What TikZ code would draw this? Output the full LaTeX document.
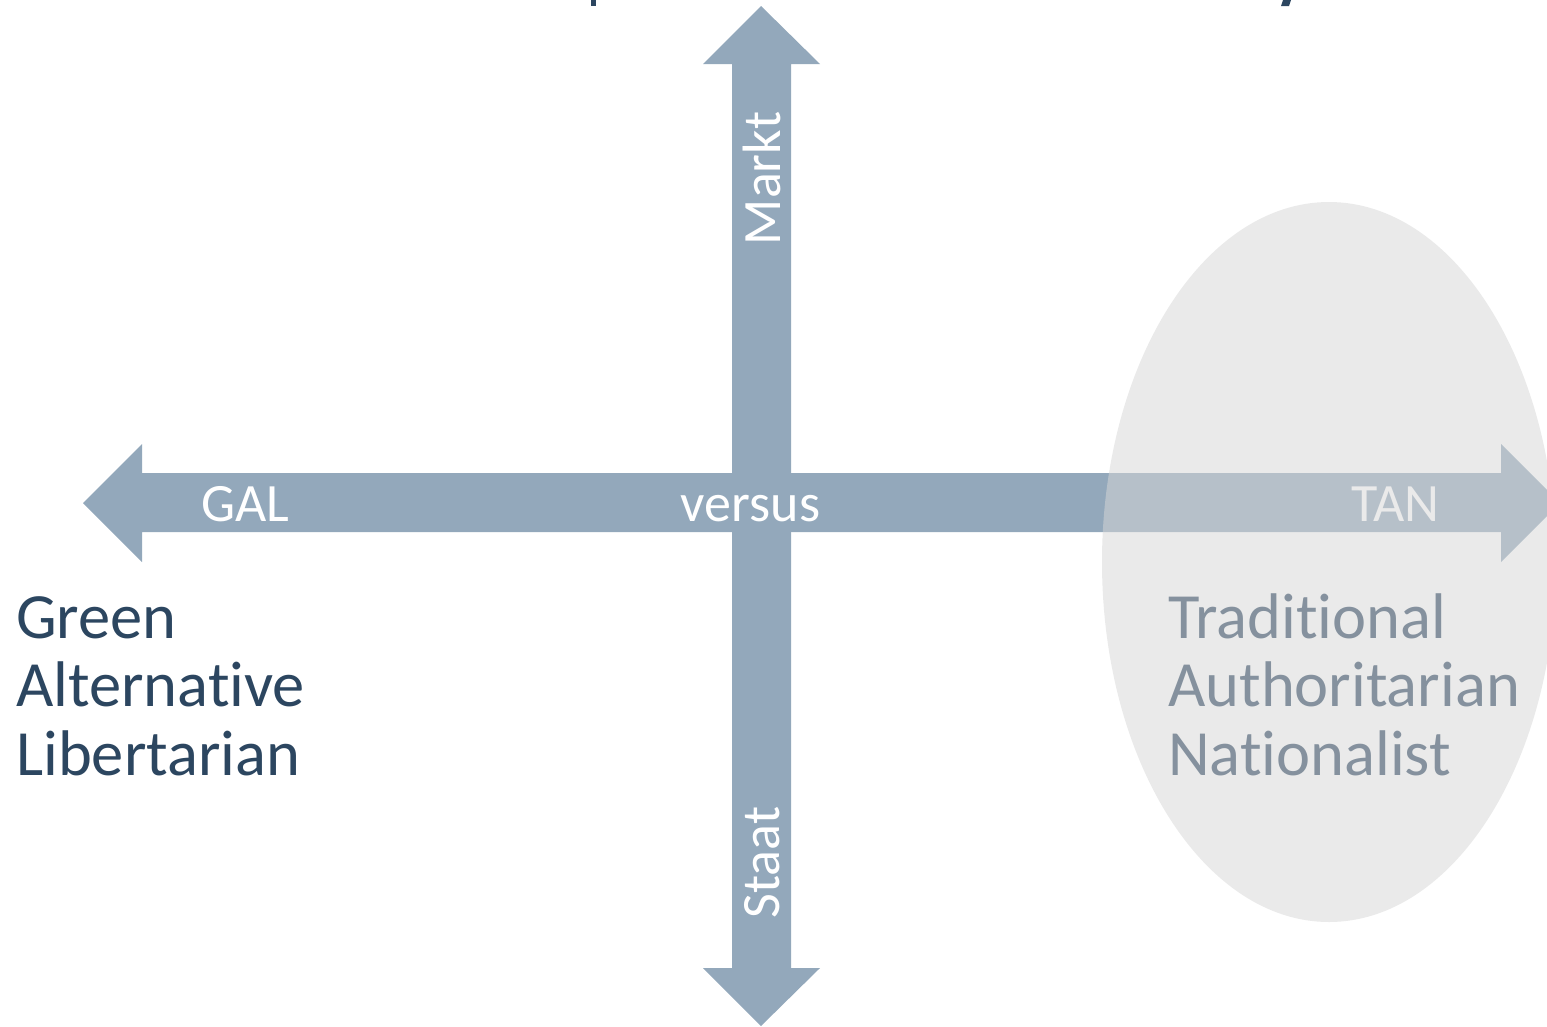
\documentclass[tikz,border=0pt]{standalone}
\usepackage{fontspec}
\setmainfont[Ligatures=CommonOff]{Carlito}
\definecolor{arrowc}{RGB}{147,168,187}
\definecolor{darktxt}{RGB}{44,70,96}
\definecolor{ellc}{RGB}{215,215,215}
\begin{document}
\begin{tikzpicture}[x=1pt,y=-1pt,
  bigtxt/.style={anchor=base west,inner sep=0pt,text=darktxt,font=\fontsize{64.5}{68}\selectfont},
  axtxt/.style={inner sep=0pt,text=white,font=\fontsize{54}{56}\selectfont},
  blockarrow/.style={fill=arrowc,draw=none}]
\useasboundingbox (0,0) rectangle (1547,1026);
% title fragments (cut off at top)
\fill[darktxt] (591,0) rectangle (596,6);
\fill[darktxt] (1283,0) -- (1291,0) -- (1289,6) -- (1281,6) -- cycle;
% horizontal double arrow
\fill[blockarrow] (83,503) -- (142,444) -- (142,473) -- (1501,473) -- (1501,444) -- (1560,503)
  -- (1501,562) -- (1501,532) -- (142,532) -- (142,562) -- cycle;
% vertical double arrow
\fill[blockarrow] (761,6) -- (820,64) -- (791,64) -- (791,968) -- (820,968) -- (761,1026)
  -- (703,968) -- (732,968) -- (732,64) -- (703,64) -- cycle;
% axis labels
\node[axtxt,anchor=base] (gal) at (245.5,521) {GAL};
\node[axtxt,anchor=base] (versus) at (750.5,521) {versus};
\node[axtxt,anchor=base] (tan) at (1395.5,521) {TAN};
\node[axtxt,rotate=90,anchor=base] (markt) at (780,178.5) {Markt};
\node[axtxt,rotate=90,anchor=base] (staat) at (779,862.5) {Staat};
% left text
\node[bigtxt] (green) at (16,638) {Green};
\node[bigtxt] (alt) at (16,706) {Alternative};
\node[bigtxt] (lib) at (16,775) {Libertarian};
% right text
\node[bigtxt] (trad) at (1168,638) {Traditional};
\node[bigtxt] (auth) at (1168,706) {Authoritarian};
\node[bigtxt] (nat) at (1168,775) {Nationalist};
% translucent ellipse
\fill[ellc,fill opacity=0.52] (1329,562) ellipse [x radius=227, y radius=360];
\end{tikzpicture}
\end{document}
